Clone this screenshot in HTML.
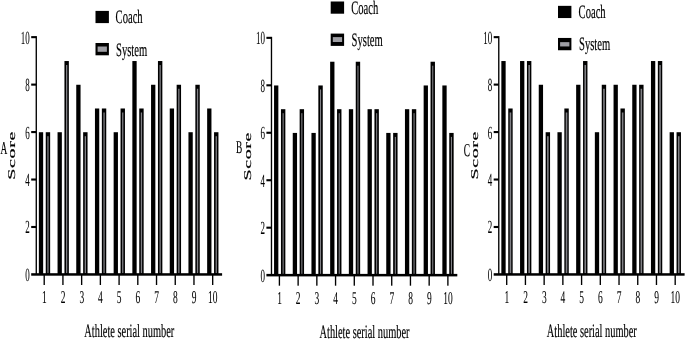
<!DOCTYPE html>
<html lang="en"><head><meta charset="utf-8"><title>Coach vs System scores</title>
<style>html,body{margin:0;padding:0;background:#fff;overflow:hidden}svg{display:block}</style></head>
<body>
<svg width="685" height="339" viewBox="0 0 685 339" font-family="Liberation Serif, serif" fill="#000" stroke="#000" stroke-width="0" text-rendering="geometricPrecision">
<rect width="685" height="339" fill="#fff"/>
<g transform="translate(0,0)">
<rect x="38.85" y="132.22" width="4.3" height="142.23"/>
<rect x="45.75" y="132.22" width="4.4" height="142.23"/>
<rect x="47.3" y="136.22" width="1.3" height="136.98" fill="#808085"/>
<rect x="57.55" y="132.22" width="4.3" height="142.23"/>
<rect x="64.45" y="61.03" width="4.4" height="213.42"/>
<rect x="66" y="65.03" width="1.3" height="208.17" fill="#808085"/>
<rect x="76.25" y="84.76" width="4.3" height="189.69"/>
<rect x="83.15" y="132.22" width="4.4" height="142.23"/>
<rect x="84.7" y="136.22" width="1.3" height="136.98" fill="#808085"/>
<rect x="94.95" y="108.49" width="4.3" height="165.96"/>
<rect x="101.85" y="108.49" width="4.4" height="165.96"/>
<rect x="103.4" y="112.49" width="1.3" height="160.71" fill="#808085"/>
<rect x="113.65" y="132.22" width="4.3" height="142.23"/>
<rect x="120.55" y="108.49" width="4.4" height="165.96"/>
<rect x="122.1" y="112.49" width="1.3" height="160.71" fill="#808085"/>
<rect x="132.35" y="61.03" width="4.3" height="213.42"/>
<rect x="139.25" y="108.49" width="4.4" height="165.96"/>
<rect x="140.8" y="112.49" width="1.3" height="160.71" fill="#808085"/>
<rect x="151.05" y="84.76" width="4.3" height="189.69"/>
<rect x="157.95" y="61.03" width="4.4" height="213.42"/>
<rect x="159.5" y="65.03" width="1.3" height="208.17" fill="#808085"/>
<rect x="169.75" y="108.49" width="4.3" height="165.96"/>
<rect x="176.65" y="84.76" width="4.4" height="189.69"/>
<rect x="178.2" y="88.76" width="1.3" height="184.44" fill="#808085"/>
<rect x="188.45" y="132.22" width="4.3" height="142.23"/>
<rect x="195.35" y="84.76" width="4.4" height="189.69"/>
<rect x="196.9" y="88.76" width="1.3" height="184.44" fill="#808085"/>
<rect x="207.15" y="108.49" width="4.3" height="165.96"/>
<rect x="214.05" y="132.22" width="4.4" height="142.23"/>
<rect x="215.6" y="136.22" width="1.3" height="136.98" fill="#808085"/>
<rect x="31.2" y="273.2" width="190.9" height="2.5"/>
<rect x="35.6" y="36.15" width="1.35" height="238.3"/>
<rect x="31.2" y="225.94" width="5" height="2.1"/>
<rect x="31.2" y="178.48" width="5" height="2.1"/>
<rect x="31.2" y="131.02" width="5" height="2.1"/>
<rect x="31.2" y="83.56" width="5" height="2.1"/>
<rect x="31.2" y="36.1" width="5" height="2.1"/>
<text transform="translate(29.8,280.95) scale(0.482,1)" font-size="18.6" text-anchor="end" stroke-width="0.06">0</text>
<text transform="translate(29.8,233.49) scale(0.482,1)" font-size="18.6" text-anchor="end" stroke-width="0.06">2</text>
<text transform="translate(29.8,186.03) scale(0.482,1)" font-size="18.6" text-anchor="end" stroke-width="0.06">4</text>
<text transform="translate(29.8,138.57) scale(0.482,1)" font-size="18.6" text-anchor="end" stroke-width="0.06">6</text>
<text transform="translate(29.8,91.11) scale(0.482,1)" font-size="18.6" text-anchor="end" stroke-width="0.06">8</text>
<text transform="translate(29.8,43.65) scale(0.482,1)" font-size="18.6" text-anchor="end" stroke-width="0.06">10</text>
<rect x="43.53" y="274.45" width="1.35" height="10.55"/>
<text transform="translate(44.3,303) scale(0.525,1)" font-size="18" text-anchor="middle" stroke-width="0.06">1</text>
<rect x="62.25" y="274.45" width="1.35" height="10.55"/>
<text transform="translate(63.02,303) scale(0.525,1)" font-size="18" text-anchor="middle" stroke-width="0.06">2</text>
<rect x="80.97" y="274.45" width="1.35" height="10.55"/>
<text transform="translate(81.74,303) scale(0.525,1)" font-size="18" text-anchor="middle" stroke-width="0.06">3</text>
<rect x="99.69" y="274.45" width="1.35" height="10.55"/>
<text transform="translate(100.46,303) scale(0.525,1)" font-size="18" text-anchor="middle" stroke-width="0.06">4</text>
<rect x="118.41" y="274.45" width="1.35" height="10.55"/>
<text transform="translate(119.18,303) scale(0.525,1)" font-size="18" text-anchor="middle" stroke-width="0.06">5</text>
<rect x="137.13" y="274.45" width="1.35" height="10.55"/>
<text transform="translate(137.9,303) scale(0.525,1)" font-size="18" text-anchor="middle" stroke-width="0.06">6</text>
<rect x="155.85" y="274.45" width="1.35" height="10.55"/>
<text transform="translate(156.62,303) scale(0.525,1)" font-size="18" text-anchor="middle" stroke-width="0.06">7</text>
<rect x="174.57" y="274.45" width="1.35" height="10.55"/>
<text transform="translate(175.34,303) scale(0.525,1)" font-size="18" text-anchor="middle" stroke-width="0.06">8</text>
<rect x="193.29" y="274.45" width="1.35" height="10.55"/>
<text transform="translate(194.06,303) scale(0.525,1)" font-size="18" text-anchor="middle" stroke-width="0.06">9</text>
<rect x="212.01" y="274.45" width="1.35" height="10.55"/>
<text transform="translate(212.78,303) scale(0.525,1)" font-size="18" text-anchor="middle" stroke-width="0.06">10</text>
<text transform="translate(129.3,336.9) scale(0.553,1)" font-size="18.8" text-anchor="middle" stroke-width="0.18">Athlete serial number</text>
</g>
<text transform="translate(15.4,155.4) scale(0.52,1) rotate(-90)" font-size="20" text-anchor="middle" stroke-width="0.3" letter-spacing="0.6">Score</text>
<text transform="translate(0.45,153.6) scale(0.52,1)" font-size="18" text-anchor="start" stroke-width="0.18">A</text>
<rect x="95.5" y="10.9" width="13.4" height="12.2"/>
<text transform="translate(115.6,23.45) scale(0.557,1)" font-size="19" text-anchor="start" stroke-width="0.18">Coach</text>
<rect x="95.5" y="43" width="13.4" height="12.3"/>
<rect x="97.6" y="46.5" width="9.3" height="5.3" fill="#9e9ea4"/>
<text transform="translate(116,55.5) scale(0.557,1)" font-size="19" text-anchor="start" stroke-width="0.18">System</text>
<g transform="translate(235.2,0.7)">
<rect x="38.85" y="84.76" width="4.3" height="189.69"/>
<rect x="45.75" y="108.49" width="4.4" height="165.96"/>
<rect x="47.4" y="112.49" width="1.1" height="160.71" fill="#808085"/>
<rect x="57.55" y="132.22" width="4.3" height="142.23"/>
<rect x="64.45" y="108.49" width="4.4" height="165.96"/>
<rect x="66.1" y="112.49" width="1.1" height="160.71" fill="#808085"/>
<rect x="76.25" y="132.22" width="4.3" height="142.23"/>
<rect x="83.15" y="84.76" width="4.4" height="189.69"/>
<rect x="84.8" y="88.76" width="1.1" height="184.44" fill="#808085"/>
<rect x="94.95" y="61.03" width="4.3" height="213.42"/>
<rect x="101.85" y="108.49" width="4.4" height="165.96"/>
<rect x="103.5" y="112.49" width="1.1" height="160.71" fill="#808085"/>
<rect x="113.65" y="108.49" width="4.3" height="165.96"/>
<rect x="120.55" y="61.03" width="4.4" height="213.42"/>
<rect x="122.2" y="65.03" width="1.1" height="208.17" fill="#808085"/>
<rect x="132.35" y="108.49" width="4.3" height="165.96"/>
<rect x="139.25" y="108.49" width="4.4" height="165.96"/>
<rect x="140.9" y="112.49" width="1.1" height="160.71" fill="#808085"/>
<rect x="151.05" y="132.22" width="4.3" height="142.23"/>
<rect x="157.95" y="132.22" width="4.4" height="142.23"/>
<rect x="159.6" y="136.22" width="1.1" height="136.98" fill="#808085"/>
<rect x="169.75" y="108.49" width="4.3" height="165.96"/>
<rect x="176.65" y="108.49" width="4.4" height="165.96"/>
<rect x="178.3" y="112.49" width="1.1" height="160.71" fill="#808085"/>
<rect x="188.45" y="84.76" width="4.3" height="189.69"/>
<rect x="195.35" y="61.03" width="4.4" height="213.42"/>
<rect x="197" y="65.03" width="1.1" height="208.17" fill="#808085"/>
<rect x="207.15" y="84.76" width="4.3" height="189.69"/>
<rect x="214.05" y="132.22" width="4.4" height="142.23"/>
<rect x="215.7" y="136.22" width="1.1" height="136.98" fill="#808085"/>
<rect x="31.2" y="273.2" width="190.9" height="2.5"/>
<rect x="35.6" y="36.15" width="1.35" height="238.3"/>
<rect x="31.2" y="225.94" width="5" height="2.1"/>
<rect x="31.2" y="178.48" width="5" height="2.1"/>
<rect x="31.2" y="131.02" width="5" height="2.1"/>
<rect x="31.2" y="83.56" width="5" height="2.1"/>
<rect x="31.2" y="36.1" width="5" height="2.1"/>
<text transform="translate(29.8,280.95) scale(0.482,1)" font-size="18.6" text-anchor="end" stroke-width="0.06">0</text>
<text transform="translate(29.8,233.49) scale(0.482,1)" font-size="18.6" text-anchor="end" stroke-width="0.06">2</text>
<text transform="translate(29.8,186.03) scale(0.482,1)" font-size="18.6" text-anchor="end" stroke-width="0.06">4</text>
<text transform="translate(29.8,138.57) scale(0.482,1)" font-size="18.6" text-anchor="end" stroke-width="0.06">6</text>
<text transform="translate(29.8,91.11) scale(0.482,1)" font-size="18.6" text-anchor="end" stroke-width="0.06">8</text>
<text transform="translate(29.8,43.65) scale(0.482,1)" font-size="18.6" text-anchor="end" stroke-width="0.06">10</text>
<rect x="43.53" y="274.45" width="1.35" height="10.55"/>
<text transform="translate(44.3,303) scale(0.525,1)" font-size="18" text-anchor="middle" stroke-width="0.06">1</text>
<rect x="62.25" y="274.45" width="1.35" height="10.55"/>
<text transform="translate(63.02,303) scale(0.525,1)" font-size="18" text-anchor="middle" stroke-width="0.06">2</text>
<rect x="80.97" y="274.45" width="1.35" height="10.55"/>
<text transform="translate(81.74,303) scale(0.525,1)" font-size="18" text-anchor="middle" stroke-width="0.06">3</text>
<rect x="99.69" y="274.45" width="1.35" height="10.55"/>
<text transform="translate(100.46,303) scale(0.525,1)" font-size="18" text-anchor="middle" stroke-width="0.06">4</text>
<rect x="118.41" y="274.45" width="1.35" height="10.55"/>
<text transform="translate(119.18,303) scale(0.525,1)" font-size="18" text-anchor="middle" stroke-width="0.06">5</text>
<rect x="137.13" y="274.45" width="1.35" height="10.55"/>
<text transform="translate(137.9,303) scale(0.525,1)" font-size="18" text-anchor="middle" stroke-width="0.06">6</text>
<rect x="155.85" y="274.45" width="1.35" height="10.55"/>
<text transform="translate(156.62,303) scale(0.525,1)" font-size="18" text-anchor="middle" stroke-width="0.06">7</text>
<rect x="174.57" y="274.45" width="1.35" height="10.55"/>
<text transform="translate(175.34,303) scale(0.525,1)" font-size="18" text-anchor="middle" stroke-width="0.06">8</text>
<rect x="193.29" y="274.45" width="1.35" height="10.55"/>
<text transform="translate(194.06,303) scale(0.525,1)" font-size="18" text-anchor="middle" stroke-width="0.06">9</text>
<rect x="212.01" y="274.45" width="1.35" height="10.55"/>
<text transform="translate(212.78,303) scale(0.525,1)" font-size="18" text-anchor="middle" stroke-width="0.06">10</text>
<text transform="translate(129.3,336.9) scale(0.553,1)" font-size="18.8" text-anchor="middle" stroke-width="0.18">Athlete serial number</text>
</g>
<text transform="translate(250.6,156.3) scale(0.52,1) rotate(-90)" font-size="20" text-anchor="middle" stroke-width="0.3" letter-spacing="0.6">Score</text>
<text transform="translate(236,152.8) scale(0.52,1)" font-size="18" text-anchor="start" stroke-width="0.18">B</text>
<rect x="330.7" y="1.5" width="13.4" height="12.2"/>
<text transform="translate(351.2,14.05) scale(0.557,1)" font-size="19" text-anchor="start" stroke-width="0.18">Coach</text>
<rect x="330.7" y="33.6" width="13.4" height="12.3"/>
<rect x="332.8" y="37.1" width="9.3" height="4.9" fill="#9e9ea4"/>
<text transform="translate(351.6,46.1) scale(0.557,1)" font-size="19" text-anchor="start" stroke-width="0.18">System</text>
<g transform="translate(462.5,0)">
<rect x="38.85" y="61.03" width="4.3" height="213.42"/>
<rect x="45.75" y="108.49" width="4.4" height="165.96"/>
<rect x="47.15" y="112.49" width="1.6" height="160.71" fill="#808085"/>
<rect x="57.55" y="61.03" width="4.3" height="213.42"/>
<rect x="64.45" y="61.03" width="4.4" height="213.42"/>
<rect x="65.85" y="65.03" width="1.6" height="208.17" fill="#808085"/>
<rect x="76.25" y="84.76" width="4.3" height="189.69"/>
<rect x="83.15" y="132.22" width="4.4" height="142.23"/>
<rect x="84.55" y="136.22" width="1.6" height="136.98" fill="#808085"/>
<rect x="94.95" y="132.22" width="4.3" height="142.23"/>
<rect x="101.85" y="108.49" width="4.4" height="165.96"/>
<rect x="103.25" y="112.49" width="1.6" height="160.71" fill="#808085"/>
<rect x="113.65" y="84.76" width="4.3" height="189.69"/>
<rect x="120.55" y="61.03" width="4.4" height="213.42"/>
<rect x="121.95" y="65.03" width="1.6" height="208.17" fill="#808085"/>
<rect x="132.35" y="132.22" width="4.3" height="142.23"/>
<rect x="139.25" y="84.76" width="4.4" height="189.69"/>
<rect x="140.65" y="88.76" width="1.6" height="184.44" fill="#808085"/>
<rect x="151.05" y="84.76" width="4.3" height="189.69"/>
<rect x="157.95" y="108.49" width="4.4" height="165.96"/>
<rect x="159.35" y="112.49" width="1.6" height="160.71" fill="#808085"/>
<rect x="169.75" y="84.76" width="4.3" height="189.69"/>
<rect x="176.65" y="84.76" width="4.4" height="189.69"/>
<rect x="178.05" y="88.76" width="1.6" height="184.44" fill="#808085"/>
<rect x="188.45" y="61.03" width="4.3" height="213.42"/>
<rect x="195.35" y="61.03" width="4.4" height="213.42"/>
<rect x="196.75" y="65.03" width="1.6" height="208.17" fill="#808085"/>
<rect x="207.15" y="132.22" width="4.3" height="142.23"/>
<rect x="214.05" y="132.22" width="4.4" height="142.23"/>
<rect x="215.45" y="136.22" width="1.6" height="136.98" fill="#808085"/>
<rect x="31.2" y="273.2" width="190.9" height="2.5"/>
<rect x="35.6" y="36.15" width="1.35" height="238.3"/>
<rect x="31.2" y="225.94" width="5" height="2.1"/>
<rect x="31.2" y="178.48" width="5" height="2.1"/>
<rect x="31.2" y="131.02" width="5" height="2.1"/>
<rect x="31.2" y="83.56" width="5" height="2.1"/>
<rect x="31.2" y="36.1" width="5" height="2.1"/>
<text transform="translate(29.8,280.95) scale(0.482,1)" font-size="18.6" text-anchor="end" stroke-width="0.06">0</text>
<text transform="translate(29.8,233.49) scale(0.482,1)" font-size="18.6" text-anchor="end" stroke-width="0.06">2</text>
<text transform="translate(29.8,186.03) scale(0.482,1)" font-size="18.6" text-anchor="end" stroke-width="0.06">4</text>
<text transform="translate(29.8,138.57) scale(0.482,1)" font-size="18.6" text-anchor="end" stroke-width="0.06">6</text>
<text transform="translate(29.8,91.11) scale(0.482,1)" font-size="18.6" text-anchor="end" stroke-width="0.06">8</text>
<text transform="translate(29.8,43.65) scale(0.482,1)" font-size="18.6" text-anchor="end" stroke-width="0.06">10</text>
<rect x="43.53" y="274.45" width="1.35" height="10.55"/>
<text transform="translate(44.3,303) scale(0.525,1)" font-size="18" text-anchor="middle" stroke-width="0.06">1</text>
<rect x="62.25" y="274.45" width="1.35" height="10.55"/>
<text transform="translate(63.02,303) scale(0.525,1)" font-size="18" text-anchor="middle" stroke-width="0.06">2</text>
<rect x="80.97" y="274.45" width="1.35" height="10.55"/>
<text transform="translate(81.74,303) scale(0.525,1)" font-size="18" text-anchor="middle" stroke-width="0.06">3</text>
<rect x="99.69" y="274.45" width="1.35" height="10.55"/>
<text transform="translate(100.46,303) scale(0.525,1)" font-size="18" text-anchor="middle" stroke-width="0.06">4</text>
<rect x="118.41" y="274.45" width="1.35" height="10.55"/>
<text transform="translate(119.18,303) scale(0.525,1)" font-size="18" text-anchor="middle" stroke-width="0.06">5</text>
<rect x="137.13" y="274.45" width="1.35" height="10.55"/>
<text transform="translate(137.9,303) scale(0.525,1)" font-size="18" text-anchor="middle" stroke-width="0.06">6</text>
<rect x="155.85" y="274.45" width="1.35" height="10.55"/>
<text transform="translate(156.62,303) scale(0.525,1)" font-size="18" text-anchor="middle" stroke-width="0.06">7</text>
<rect x="174.57" y="274.45" width="1.35" height="10.55"/>
<text transform="translate(175.34,303) scale(0.525,1)" font-size="18" text-anchor="middle" stroke-width="0.06">8</text>
<rect x="193.29" y="274.45" width="1.35" height="10.55"/>
<text transform="translate(194.06,303) scale(0.525,1)" font-size="18" text-anchor="middle" stroke-width="0.06">9</text>
<rect x="212.01" y="274.45" width="1.35" height="10.55"/>
<text transform="translate(212.78,303) scale(0.525,1)" font-size="18" text-anchor="middle" stroke-width="0.06">10</text>
<text transform="translate(129.3,336.9) scale(0.553,1)" font-size="18.8" text-anchor="middle" stroke-width="0.18">Athlete serial number</text>
</g>
<text transform="translate(477.9,155.3) scale(0.52,1) rotate(-90)" font-size="20" text-anchor="middle" stroke-width="0.3" letter-spacing="0.6">Score</text>
<text transform="translate(463.7,156) scale(0.52,1)" font-size="18" text-anchor="start" stroke-width="0.18">C</text>
<rect x="558" y="5.85" width="13.4" height="12.2"/>
<text transform="translate(578.6,18.4) scale(0.557,1)" font-size="19" text-anchor="start" stroke-width="0.18">Coach</text>
<rect x="558" y="37.95" width="13.4" height="12.3"/>
<rect x="560.1" y="42.15" width="9.3" height="4.3" fill="#9e9ea4"/>
<text transform="translate(579,50.45) scale(0.557,1)" font-size="19" text-anchor="start" stroke-width="0.18">System</text>
</svg>
</body></html>
